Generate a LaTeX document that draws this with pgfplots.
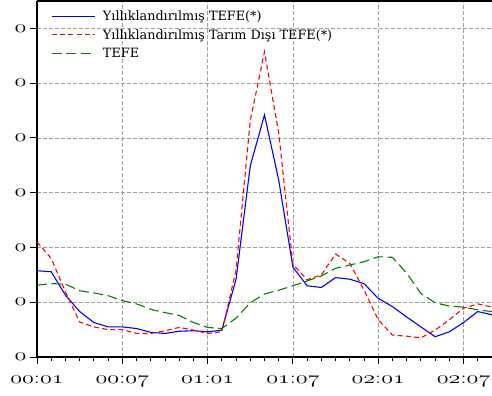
\documentclass[border=0pt]{standalone}
\usepackage{fontspec}
\usepackage{pgfplots}
\pgfplotsset{compat=1.18}
\usepackage{graphicx}
\newfontfamily\legfont{DejaVu Serif}
\newcommand{\osf}[1]{\scalebox{1.4}[1]{$\mathnormal{#1}$}}
\newcommand{\osfl}[2]{\scalebox{1.4}[1]{$\mathnormal{#1}{:}\mathnormal{#2}$}}
\pgfplotstableread{
x blue red green
0 1.575 2.10 1.31
1 1.556 1.80 1.34
2 1.13 1.19 1.33
3 0.83 0.64 1.21
4 0.63 0.55 1.17
5 0.55 0.50 1.12
6 0.55 0.50 1.03
7 0.52 0.43 0.97
8 0.45 0.43 0.87
9 0.43 0.48 0.81
10 0.47 0.54 0.76
11 0.48 0.49 0.63
12 0.46 0.43 0.54
13 0.49 0.46 0.52
14 1.42 1.59 0.71
15 3.49 4.32 0.99
16 4.42 5.57 1.15
17 3.23 4.09 1.22
18 1.64 1.69 1.30
19 1.30 1.41 1.39
20 1.27 1.50 1.48
21 1.45 1.88 1.62
22 1.42 1.71 1.68
23 1.34 1.22 1.74
24 1.07 0.68 1.83
25 0.92 0.40 1.82
26 0.73 0.38 1.53
27 0.55 0.35 1.16
28 0.37 0.49 0.99
29 0.46 0.68 0.93
30 0.63 0.89 0.91
31 0.83 0.97 0.86
32 0.77 0.91 0.83
}\datatable
\begin{document}
\begin{tikzpicture}
\begin{axis}[
  scale only axis,
  width=455bp, height=356bp,
  xmin=0, xmax=32, ymin=0, ymax=6.5,
  axis x line*=box, axis y line*=left,
  axis line style={line width=1.1bp, -},
  xtick={0,6,12,18,24,30},
  minor xtick={0,1,...,32},
  xticklabels={\osfl{00}{01},\osfl{00}{07},\osfl{01}{01},\osfl{01}{07},\osfl{02}{01},\osfl{02}{07}},
  ytick={0,1,2,3,4,5,6},
  yticklabels={\osf{0},\osf{0},\osf{0},\osf{0},\osf{0},\osf{0},\osf{0}},
  tick label style={font=\fontsize{17bp}{17bp}\selectfont},
  x tick label style={yshift=-9bp},
  xtick pos=bottom, ytick pos=left,
  tick align=outside,
  major tick length=7bp, minor tick length=4bp,
  tick style={black, line width=0.9bp},
  xmajorgrids, ymajorgrids,
  major grid style={gray!75, dash pattern=on 4bp off 2bp, line width=0.7bp},
  legend style={at={(0.029,0.98)}, anchor=north west, draw=none, fill=none,
    font=\legfont\fontsize{12.8bp}{13bp}\selectfont, row sep=4.3bp, inner sep=1bp,
    nodes={inner sep=1.5bp}},
  legend cell align=left,
  legend image code/.code={\draw[#1] (0bp,0bp) -- (43bp,0bp); \path (49bp,0bp);},
]
\addplot[blue, line width=1.1bp] table[x=x, y=blue] {\datatable};
\addlegendentry{Yıllıklandırılmış TEFE(*)}
\addplot[red, line width=1.1bp, dash pattern=on 5bp off 3.2bp] table[x=x, y=red] {\datatable};
\addlegendentry{Yıllıklandırılmış Tarım Dışı TEFE(*)}
\addplot[green!50!black, line width=1.1bp, dash pattern=on 10bp off 4.5bp] table[x=x, y=green] {\datatable};
\addlegendentry{TEFE}
\end{axis}
\pgfresetboundingbox
\path ([xshift=-37bp,yshift=-39bp]current axis.south west) rectangle ([yshift=1bp]current axis.north east);
\end{tikzpicture}
\end{document}
